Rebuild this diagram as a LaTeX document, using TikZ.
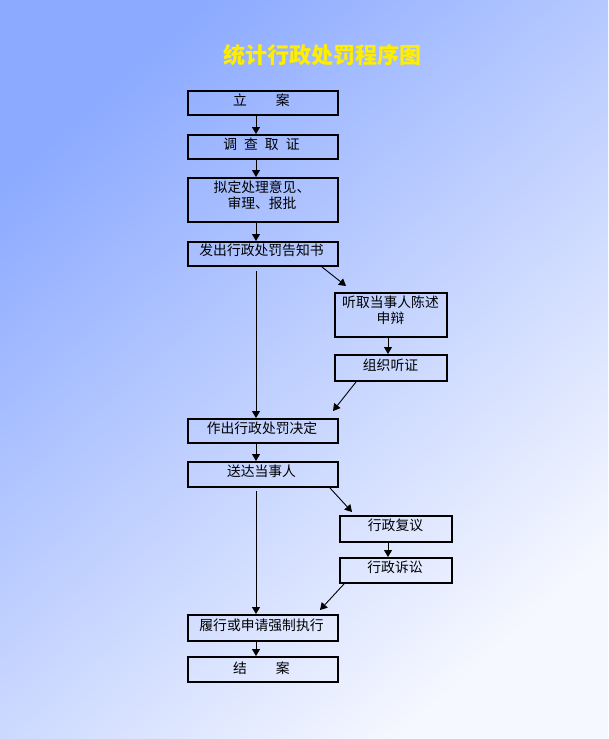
\documentclass[tikz,border=0pt]{standalone}
\usepackage{fontspec}
\newfontfamily\cjk{Noto Sans CJK SC}
\usetikzlibrary{arrows.meta}
\definecolor{bgA}{RGB}{140,170,255}
\definecolor{bgB}{RGB}{246,248,255}
\definecolor{ttl}{RGB}{255,238,0}
\begin{document}
\begin{tikzpicture}[x=1pt,y=-1pt,
  box/.style={draw=black,line width=2pt,minimum width=150pt,minimum height=24pt,inner sep=0pt},
  rbox/.style={box,minimum width=112pt},
  txt/.style={font=\cjk\fontsize{13.8}{16}\selectfont,inner sep=0pt,align=center},
  arr/.style={line width=0.9pt,-{Triangle[width=8pt,length=7pt]}}]
\shade[top color=bgA,bottom color=bgB,shading angle=41.7] (0,0) rectangle (608,739);
\useasboundingbox (0,0) rectangle (608,739);
% title
\node[font=\cjk\bfseries\fontsize{22}{26}\selectfont,text=ttl,inner sep=0pt] (title) at (322,55.5) {统计行政处罚程序图};
% boxes
\node[box] (b1) at (263,103) {};
\node[box] (b2) at (263,147) {};
\node[box,minimum height=44pt] (b3) at (263,200) {};
\node[box] (b4) at (263,254) {};
\node[rbox,minimum height=44pt] (b5) at (391,315) {};
\node[rbox,minimum height=26pt] (b6) at (391,368) {};
\node[box] (b7) at (263,431) {};
\node[box,minimum height=25pt] (b8) at (263,474.5) {};
\node[rbox,minimum height=26pt] (b9) at (396,529) {};
\node[rbox,minimum height=25pt] (b10) at (396,570.5) {};
\node[box,minimum height=26pt] (b11) at (263,628) {};
\node[box,minimum height=25pt] (b12) at (263,669.5) {};
% texts
\node[txt] (t1) at ([xshift=-1.5pt,yshift=2.5pt]b1.center) {立\hspace{29pt}案};
\node[txt] (t2) at ([xshift=-1.5pt,yshift=3pt]b2.center) {调\hspace{7pt}查\hspace{7pt}取\hspace{7pt}证};
\node[txt] (t3) at ([xshift=-1pt,yshift=5pt]b3.center) {拟定处理意见、\\审理、报批};
\node[txt] (t4) at ([xshift=-1.5pt,yshift=3.5pt]b4.center) {发出行政处罚告知书};
\node[txt] (t5) at ([xshift=-0.5pt,yshift=5pt]b5.center) {听取当事人陈述\\申辩};
\node[txt] (t6) at ([xshift=-0.5pt,yshift=3pt]b6.center) {组织听证};
\node[txt] (t7) at ([xshift=-1pt,yshift=3pt]b7.center) {作出行政处罚决定};
\node[txt] (t8) at ([xshift=-1.5pt,yshift=3.5pt]b8.center) {送达当事人};
\node[txt] (t9) at ([xshift=-0.5pt,yshift=4pt]b9.center) {行政复议};
\node[txt] (t10) at ([xshift=-1pt,yshift=3.5pt]b10.center) {行政诉讼};
\node[txt] (t11) at ([xshift=-1.5pt,yshift=3pt]b11.center) {履行或申请强制执行};
\node[txt] (t12) at ([xshift=-1.5pt,yshift=1.5pt]b12.center) {结\hspace{29pt}案};
% connector helpers
\coordinate (mx) at (256,0);
\coordinate (rx) at (388,0);
\coordinate (rx2) at (388,0);
\coordinate (d1e) at (346,286);
\coordinate (d2e) at (333,411);
\coordinate (d3e) at (352,512);
\coordinate (d4e) at (320,610);
% connectors
\draw[arr] (b1.south -| mx) -- (b2.north -| mx);
\draw[arr] (b2.south -| mx) -- (b3.north -| mx);
\draw[arr] (b3.south -| mx) -- (b4.north -| mx);
\draw[arr,shorten <=4pt] (b4.south -| mx) -- (b7.north -| mx);
\draw[arr] ([xshift=-17pt]b4.south east) -- (d1e);
\draw[arr] (b5.south -| rx) -- (b6.north -| rx);
\draw[arr] ([xshift=22pt]b6.south west) -- (d2e);
\draw[arr] (b7.south -| mx) -- (b8.north -| mx);
\draw[arr,shorten <=3pt] (b8.south -| mx) -- (b11.north -| mx);
\draw[arr] ([xshift=-9pt]b8.south east) -- (d3e);
\draw[arr] (b9.south -| rx2) -- (b10.north -| rx2);
\draw[arr] ([xshift=5pt]b10.south west) -- (d4e);
\draw[arr] (b11.south -| mx) -- (b12.north -| mx);
\end{tikzpicture}
\end{document}
